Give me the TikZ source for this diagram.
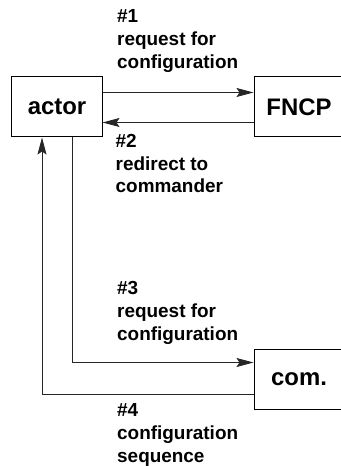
\documentclass[tikz,border=0pt]{standalone}
\usepackage{fontspec}
\setmainfont{Liberation Sans}
\usetikzlibrary{arrows.meta}
\begin{document}
\begin{tikzpicture}[x=1bp,y=-1bp,
  box/.style={draw, line width=1bp, minimum width=90bp, minimum height=60bp,
    inner sep=0pt, font=\fontsize{24}{28}\selectfont\bfseries},
  lbl/.style={anchor=base west, align=left, inner sep=0pt,
    font=\fontsize{19}{23}\selectfont\bfseries},
  conn/.style={line width=0.9bp, draw=black!85},
  tip/.style={-{Stealth[length=17bp,width=9bp,inset=3bp]}}]
\useasboundingbox (0,0) rectangle (340,466);

% the three parties
\node[box] (actor) at (57,107) {actor};
\node[box] (fncp) at (299,107) {FNCP};
\node[box] (com) at (299,379) {com.};

% #1 and #2: exchange with the FNCP
\draw[conn,tip] ([yshift=-16bp]actor.north east) -- ([yshift=-16bp]fncp.north west);
\draw[conn,tip] ([yshift=15bp]fncp.south west) -- ([yshift=15bp]actor.south east);

% #3 and #4: exchange with the commander
\draw[conn,tip] ([xshift=15bp]actor.south) |- ([yshift=-14bp]com.north west);
\draw[conn,tip] ([yshift=15bp]com.south west) -| ([xshift=-15bp]actor.south);

% step labels (anchored at the baseline of their last line)
\node[lbl] (l1) at (117,68.5) {\#1\\request for\\configuration};
\node[lbl] (l2) at (115.5,193) {\#2\\redirect to\\commander};
\node[lbl] (l3) at (117,340) {\#3\\request for\\configuration};
\node[lbl] (l4) at (117,462) {\#4\\configuration\\sequence};
\end{tikzpicture}
\end{document}
